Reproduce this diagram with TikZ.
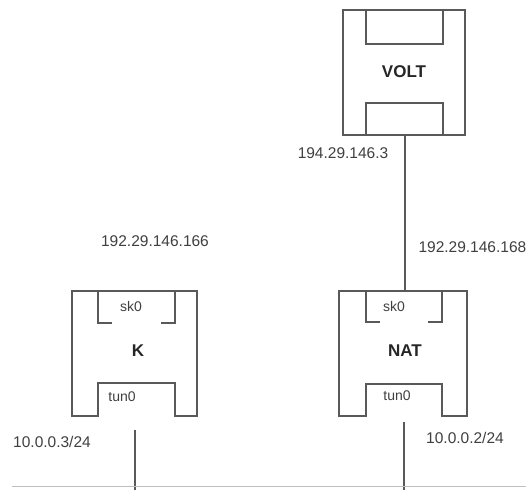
\documentclass[tikz,border=0pt]{standalone}
\usepackage{fontspec}
\setmainfont{Liberation Sans}
\begin{document}
\begin{tikzpicture}[x=1pt,y=-1pt,
  ln/.style={draw=black!65,line width=1.1pt},
  bus/.style={draw=black!25,line width=0.8pt},
  host/.style={draw=none,minimum width=#1,minimum height=125pt,inner sep=0pt},
  hostname/.style={font=\fontsize{17}{20}\selectfont\bfseries,text=black!85},
  ifname/.style={font=\fontsize{14}{16}\selectfont,text=black!75},
  ip/.style={font=\fontsize{15.5}{18}\selectfont,text=black!75}]
\useasboundingbox (0,0) rectangle (530,490);
\fill[white] (0,0) rectangle (530,490);

% VOLT
\node[host=122pt,ln,draw] (volt) at (404,72.5) {};
\draw[ln] (366,10) rectangle (443,44);
\draw[ln] (366,103) rectangle (443,135);
\node[hostname] (voltlbl) at (404,72) {VOLT};

% NAT
\node[host=128pt] (nat) at (403,353.5) {};
\draw[ln] (366,416) -- (339,416) -- (339,291) -- (467,291) -- (467,416) -- (442,416) -- (442,384) -- (366,384) -- cycle;
\draw[ln] (380,322) -- (366,322) -- (366,291);
\draw[ln] (428,322) -- (442,322) -- (442,291);
\node[hostname] (natlbl) at (405,351) {NAT};
\node[ifname] (natsk) at (394,306) {sk0};
\node[ifname] (nattun) at (397,396) {tun0};

% K
\node[host=125pt] (k) at (134.5,353.5) {};
\draw[ln] (98,416) -- (72,416) -- (72,291) -- (197,291) -- (197,416) -- (175,416) -- (175,383) -- (98,383) -- cycle;
\draw[ln] (112,323) -- (98,323) -- (98,291);
\draw[ln] (161,323) -- (175,323) -- (175,291);
\node[hostname] (klbl) at (138,351) {K};
\node[ifname] (ksk) at (131,306) {sk0};
\node[ifname] (ktun) at (122,397) {tun0};

% connectors
\draw[ln] ([xshift=1pt]volt.south) -- ([xshift=1pt]volt.south |- nat.north);
\coordinate (kport) at (135,430);
\coordinate (kbus) at (135,490);
\coordinate (natport) at (404,422);
\coordinate (natbus) at (404,490);
\draw[ln] (kport) -- (kbus);
\draw[ln] (natport) -- (natbus);
\coordinate (busl) at (12,486);
\coordinate (busr) at (526,486);
\draw[bus] (busl) -- (busr);

% addresses
\node[ip] (ipvolt) at (343,153) {194.29.146.3};
\node[ip,anchor=west] (ipnat) at (415,247) {192.29.146.168};
\node[ip] (ipk) at (155,241) {192.29.146.166};
\node[ip] (tunk) at (52,442) {10.0.0.3/24};
\node[ip] (tunnat) at (465,438) {10.0.0.2/24};
\end{tikzpicture}
\end{document}
